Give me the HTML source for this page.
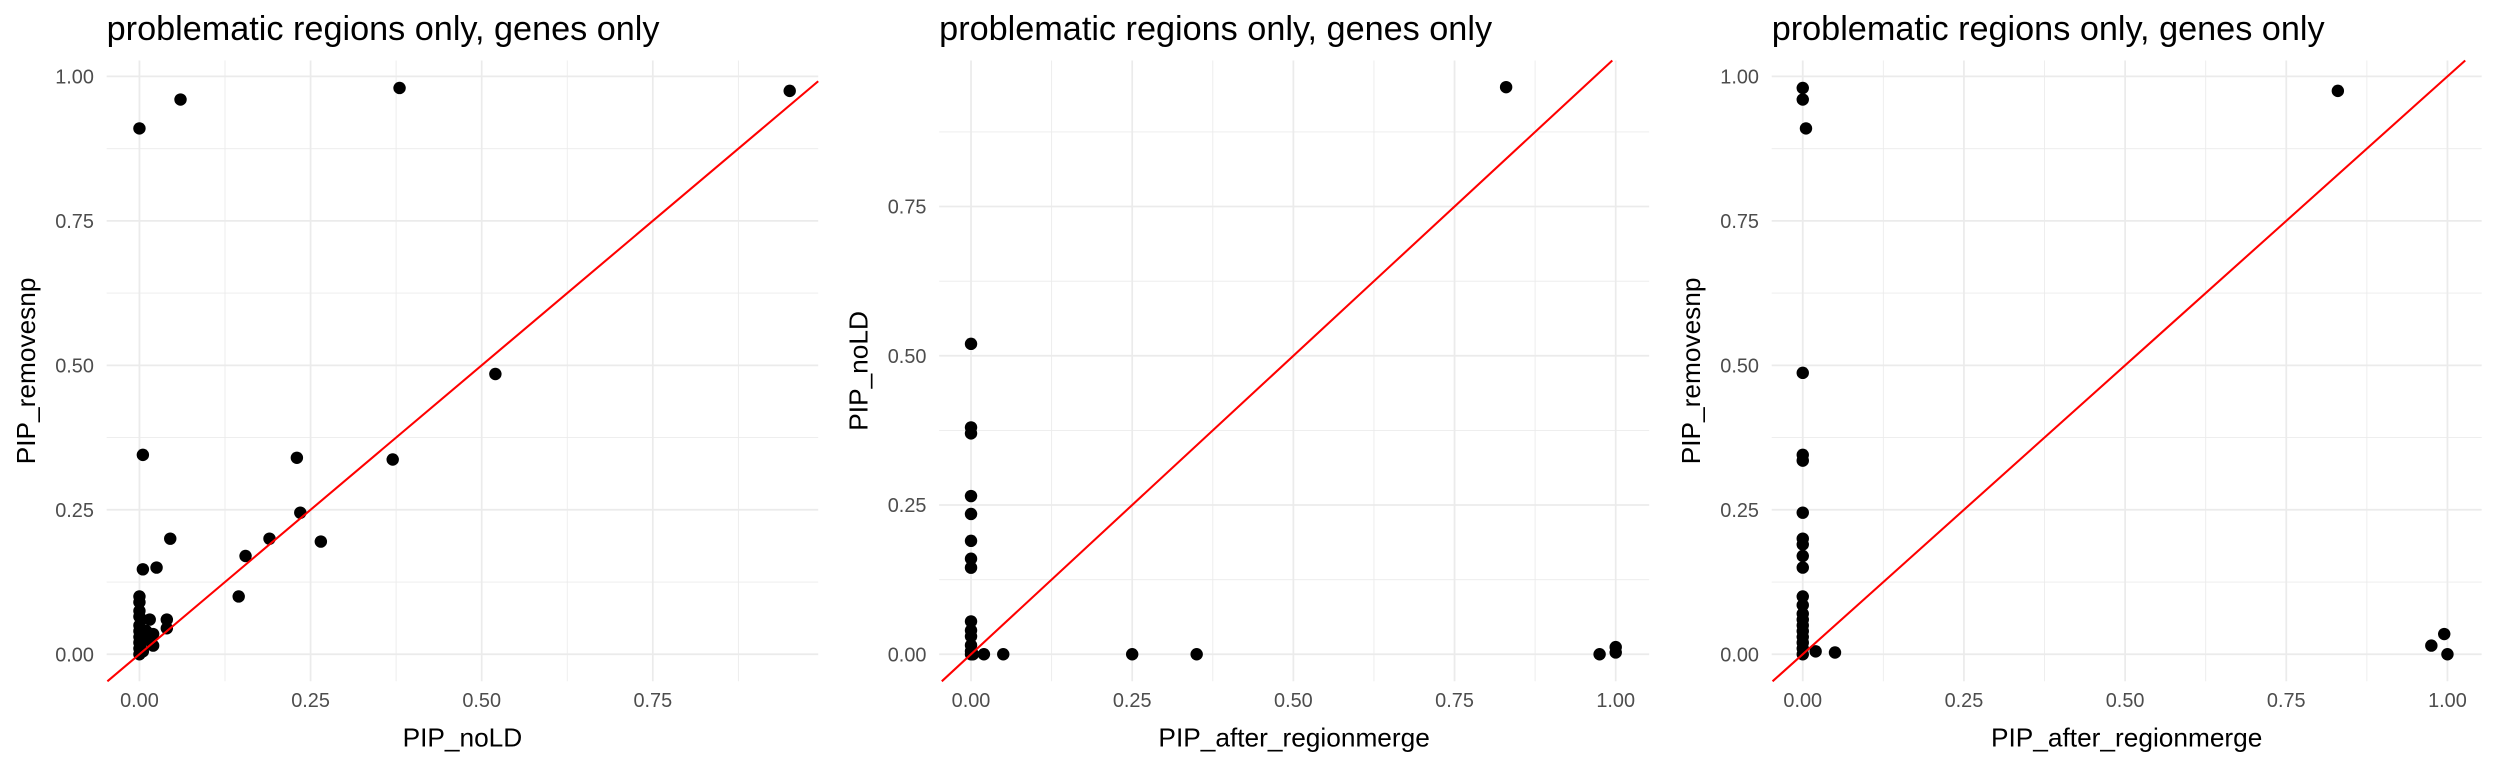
<!DOCTYPE html>
<html><head><meta charset="utf-8"><style>
html,body{margin:0;padding:0;background:#fff;}
svg{display:block;font-family:"Liberation Sans",sans-serif;}
</style></head><body>
<svg id="chart" width="2496" height="768" viewBox="0 0 1568 482.46" xmlns="http://www.w3.org/2000/svg"></svg>
<script>
const p1X=[0.00,0.06,0.38,0.95,0.52,0.005,0.23,0.37,0.045,0.19,0.265,0.235,0.155,0.145,0.005,0.025,0.04,0.04,0.015,0.02,0.02,0.01,0,0,0,0,0,0,0,0,0,0,0.005,0.008];
const p1Y=[0.91,0.96,0.98,0.975,0.485,0.345,0.34,0.337,0.2,0.2,0.195,0.245,0.17,0.1,0.147,0.15,0.06,0.045,0.06,0.035,0.015,0.04,0.1,0.09,0.075,0.065,0.05,0.04,0.03,0.02,0.01,0.0,0.005,0.025];
const p2X=[0.83,0,0,0,0,0,0,0,0,0,0,0,0,0,0,0.02,0.05,0.25,0.35,0.975,1.0,1.0,0.003];
const p2Y=[0.95,0.52,0.38,0.37,0.265,0.235,0.19,0.16,0.145,0.055,0.04,0.03,0.015,0.005,0,0,0,0,0,0,0.012,0.003,0];
const p3X=[0,0,0.005,0.83,0,0,0,0,0,0,0,0,0,0,0,0,0,0,0,0,0,0,0.02,0.05,0.975,0.995,1.0];
const p3Y=[0.98,0.96,0.91,0.975,0.487,0.345,0.335,0.245,0.2,0.19,0.17,0.15,0.1,0.085,0.07,0.06,0.05,0.04,0.03,0.02,0.01,0,0.005,0.003,0.015,0.035,0];
const tickLabels=["0.00","0.25","0.50","0.75","1.00"];
const tickVals=[0,0.25,0.5,0.75,1];
const titleText="problematic regions only, genes only";

const svg=document.getElementById('chart');
const NS="http://www.w3.org/2000/svg";
function mk(tag,attrs,parent){const e=document.createElementNS(NS,tag);for(const k in attrs)e.setAttribute(k,attrs[k]);(parent||svg).appendChild(e);return e;}

const panels=[
 {name:'panel-1',xs:p1X,ys:p1Y,L:67,R:514,x0:87.6,xu:430,y0:411,yu:363,xt:'PIP_noLD',yt:'PIP_removesnp',ymax:1.0},
 {name:'panel-2',xs:p2X,ys:p2Y,L:590,R:1036,x0:610,xu:405,y0:411,yu:375,xt:'PIP_after_regionmerge',yt:'PIP_noLD',ymax:0.75},
 {name:'panel-3',xs:p3X,ys:p3Y,L:1113,R:1559,x0:1132.5,xu:405,y0:411,yu:363,xt:'PIP_after_regionmerge',yt:'PIP_removesnp',ymax:1.0}
];
const T=38,B=428;
panels.forEach((p,i)=>{
 const g=mk('g',{});
 
 
 const sx=v=>p.x0+v*p.xu, sy=v=>p.y0-v*p.yu;
 const inv=px=>(px-p.x0)/p.xu;
 for(let v=-1;v<=2;v+=0.125){const x=sx(v);if(x<p.L||x>p.R)continue;
   const major=Math.abs(v*4-Math.round(v*4))<1e-6;
   const l=mk('line',{x1:x,x2:x,y1:T,y2:B,stroke:'#ebebeb','stroke-width':major?1.1:0.55},g);
   
   }
 for(let v=-1;v<=2;v+=0.125){const y=sy(v);if(y<T||y>B)continue;
   const major=Math.abs(v*4-Math.round(v*4))<1e-6;
   const l=mk('line',{x1:p.L,x2:p.R,y1:y,y2:y,stroke:'#ebebeb','stroke-width':major?1.1:0.55},g);
   
   }
 tickVals.forEach((v,k)=>{
   const x=sx(v);
   if(x>=p.L&&x<=p.R){const t=mk('text',{x:x,y:444,'text-anchor':'middle','font-size':12.5,fill:'#4d4d4d'},g);t.textContent=tickLabels[k];
     }
   const y=sy(v);
   if(y>=T&&y<=B){const t=mk('text',{x:p.L-8,y:y+4.5,'text-anchor':'end','font-size':12.5,fill:'#4d4d4d'},g);t.textContent=tickLabels[k];
     }
 });
 p.xs.forEach((xv,k)=>{
   const c=mk('circle',{cx:sx(xv),cy:sy(p.ys[k]),r:3.9,fill:'#000'},g);
   
   
 });
 let a=Math.max(inv(p.L),(p.y0-B)/p.yu), b=Math.min(inv(p.R),(p.y0-T)/p.yu);
 const ln=mk('line',{x1:sx(a),y1:sy(a),x2:sx(b),y2:sy(b),stroke:'#ff0000','stroke-width':1.3},g);
 
 
 const tt=mk('text',{x:p.L,y:25,'font-size':21.5,fill:'#000'},g);tt.textContent=titleText;
 
 const xt=mk('text',{x:(p.L+p.R)/2,y:469,'text-anchor':'middle','font-size':16.5,fill:'#000'},g);xt.textContent=p.xt;
 
 const yt=mk('text',{x:0,y:0,'text-anchor':'middle','font-size':16.5,fill:'#000',transform:`translate(${p.L-45},${(T+B)/2}) rotate(-90)`},g);yt.textContent=p.yt;
 
});
</script>
</body></html>
